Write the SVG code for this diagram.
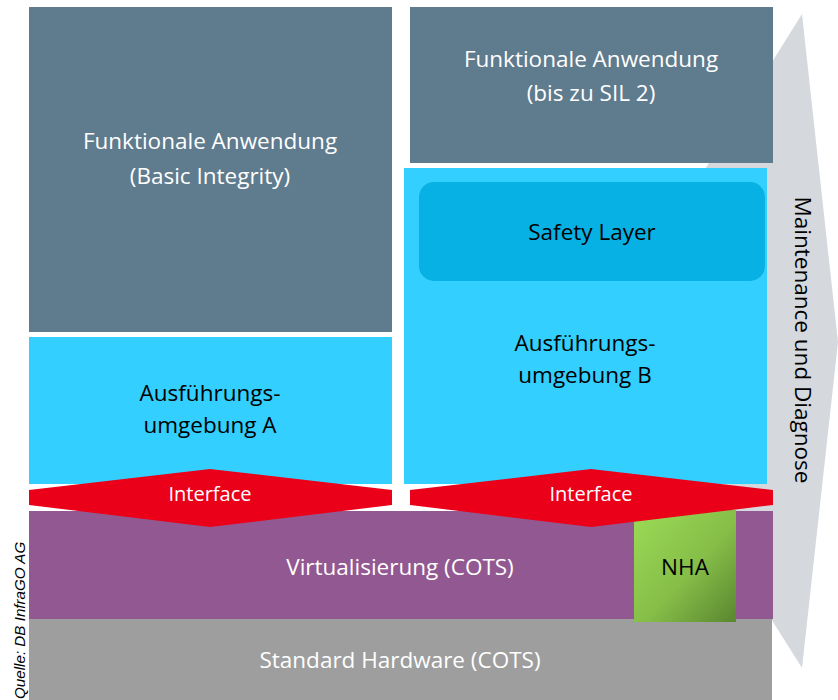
<svg xmlns="http://www.w3.org/2000/svg" width="838" height="700" viewBox="0 0 838 700">
<defs>
<linearGradient id="gNha" x1="0" y1="0" x2="1" y2="1">
<stop offset="0" stop-color="#9BDB56"/>
<stop offset="0.55" stop-color="#86BE48"/>
<stop offset="1" stop-color="#5A8630"/>
</linearGradient>
</defs>
<style>
.t{font-family:"Open Sans","Lato","DejaVu Sans",sans-serif;font-size:22.5px;text-anchor:middle}
.w{fill:#FFFFFF}
.k{fill:#000000}
.slate{fill:#5F7B8E}
.cyan{fill:#33CFFF}
.red{fill:#EB001A}
</style>
<rect width="838" height="700" fill="#FFFFFF"/>
<g id="maintenance">
<polygon points="802,14 838,342 802,668 597,342" fill="#D5D9DE"/>
<text class="t k" transform="translate(795,340) rotate(90)">Maintenance und Diagnose</text>
</g>
<g id="app-basic">
<rect class="slate" x="29" y="7" width="363" height="325"/>
<text class="t w" x="210" y="149">Funktionale Anwendung</text>
<text class="t w" x="210" y="184">(Basic Integrity)</text>
</g>
<g id="env-a">
<rect class="cyan" x="29" y="337" width="363" height="147"/>
<text class="t k" x="210" y="401">Ausführungs-</text>
<text class="t k" x="210" y="433">umgebung A</text>
</g>
<g id="app-sil2">
<rect class="slate" x="410" y="7" width="363" height="156"/>
<text class="t w" x="591" y="67">Funktionale Anwendung</text>
<text class="t w" x="591" y="101">(bis zu SIL 2)</text>
</g>
<g id="env-b">
<rect class="cyan" x="404" y="168" width="363" height="316"/>
<text class="t k" x="585" y="351">Ausführungs-</text>
<text class="t k" x="585" y="383">umgebung B</text>
</g>
<g id="safety-layer">
<rect x="419" y="182" width="346" height="99" rx="15" fill="#08B1E3"/>
<text class="t k" x="592" y="240">Safety Layer</text>
</g>
<g id="virtualisierung">
<rect x="29" y="511" width="744" height="108" fill="#925891"/>
<text class="t w" x="400" y="575">Virtualisierung (COTS)</text>
</g>
<g id="hardware">
<rect x="29" y="619" width="743" height="81" fill="#9E9E9E"/>
<text class="t w" x="400" y="668">Standard Hardware (COTS)</text>
</g>
<g id="nha">
<rect x="634" y="510" width="102" height="112" fill="url(#gNha)"/>
<text class="t k" x="685" y="575">NHA</text>
</g>
<g id="connectors">
<g id="interface-a">
<polygon class="red" points="29,490 210,469 392,490 392,505 210,527 29,505"/>
<text class="t w" x="210" y="501" style="font-size:20px">Interface</text>
</g>
<g id="interface-b">
<polygon class="red" points="410,490 591,469 773,490 773,505 591,527 410,505"/>
<text class="t w" x="591" y="501" style="font-size:20px">Interface</text>
</g>
</g>
<text transform="translate(25,699) rotate(-90)" style="font-family:'Liberation Sans',Arial,sans-serif;font-style:italic;font-size:15.2px" fill="#000000">Quelle: DB InfraGO AG</text>
</svg>
